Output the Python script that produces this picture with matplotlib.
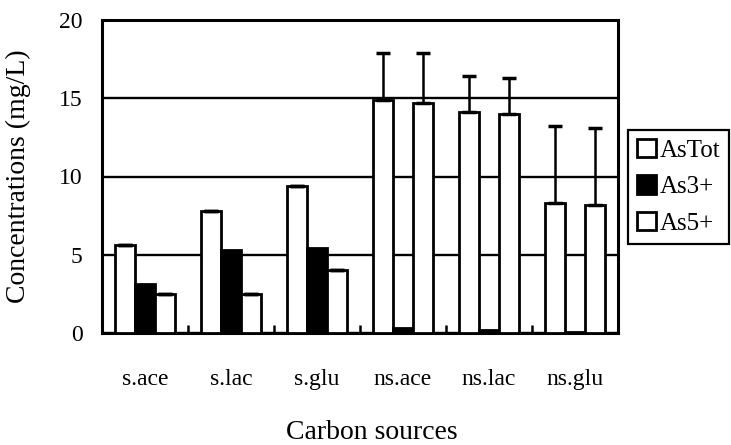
import numpy as np
import matplotlib
matplotlib.use("Agg")
import matplotlib.pyplot as plt

plt.rcParams['font.family'] = ['Liberation Serif', 'DejaVu Serif']

# carbon sources and concentrations (mg/L)
sources = ["s.ace", "s.lac", "s.glu", "ns.ace", "ns.lac", "ns.glu"]
as_tot = [5.6, 7.8, 9.4, 14.9, 14.1, 8.3]
as3 = [3.1, 5.3, 5.4, 0.3, 0.2, 0.05]
as5 = [2.5, 2.5, 4.0, 14.7, 14.0, 8.2]
err_tot = [0, 0, 0, 3.0, 2.3, 4.9]
err_as5 = [0, 0, 0, 3.2, 2.3, 4.9]

fig = plt.figure(figsize=(7.31, 4.45), dpi=100)
ax = fig.add_axes([102/731, 1-333/445, 516/731, 313/445])

x = np.arange(len(sources))
w = 0.23
bar_kw = dict(width=w, edgecolor="black", linewidth=2.0, zorder=3)
ax.bar(x - w, as_tot, color="white", label="AsTot", **bar_kw)
ax.bar(x, as3, color="black", label="As3+", **bar_kw)
ax.bar(x + w, as5, color="white", label="As5+", **bar_kw)

# upper error bars only, for the ns series
err_kw = dict(fmt="none", ecolor="black", elinewidth=1.8, capsize=5, capthick=2.5, zorder=4)
ax.errorbar(x - w, as_tot, yerr=[np.zeros(6), err_tot], **err_kw)
ax.errorbar(x + w, as5, yerr=[np.zeros(6), err_as5], **err_kw)

ax.set_ylim(0, 20)
ax.set_xlim(-0.5, 5.5)
ax.set_yticks([0, 5, 10, 15, 20])
ax.yaxis.grid(True, color="black", linewidth=1.7, zorder=0)
ax.set_axisbelow(True)

ax.set_xticks(x)
ax.set_xticklabels(sources)
ax.set_xticks(np.arange(0.5, 5.5, 1), minor=True)
ax.tick_params(axis="x", which="major", length=0, pad=26, labelsize=17)
ax.tick_params(axis="x", which="minor", direction="in", length=6, width=1.8)
ax.tick_params(axis="y", length=0, pad=14, labelsize=17)

for s in ax.spines.values():
    s.set_linewidth(2.2)

ax.set_ylabel("Concentrations (mg/L)", fontsize=20)
ax.yaxis.set_label_coords(-0.137, 0.5)
ax.set_xlabel("Carbon sources", fontsize=20, va="baseline")
ax.xaxis.set_label_coords(0.522, -0.34)

leg = fig.legend(loc="upper left", bbox_to_anchor=(628/731, 1-130/445),
                 fontsize=18, fancybox=False, edgecolor="black", framealpha=1,
                 handlelength=0.75, handleheight=0.75, handletextpad=0.15,
                 labelspacing=0.55, borderpad=0.35, borderaxespad=0)
leg.get_frame().set_linewidth(1.6)

fig.savefig("out.png", dpi=100)
